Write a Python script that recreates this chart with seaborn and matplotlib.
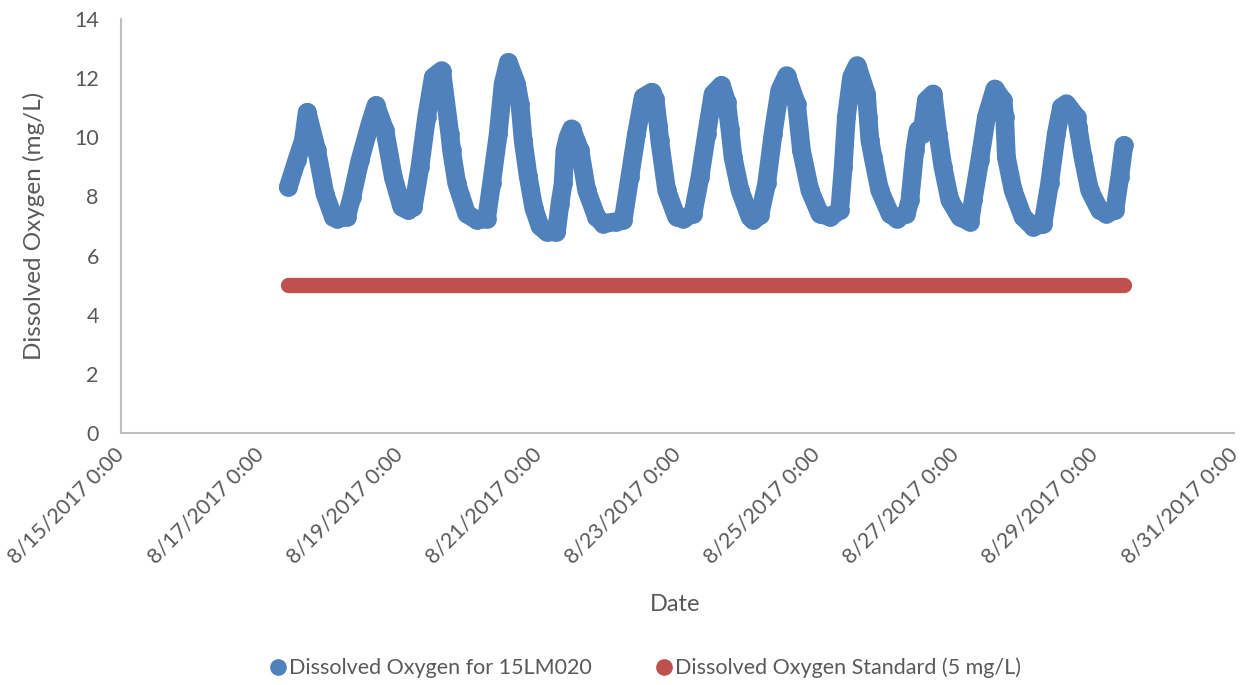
import pandas as pd
import seaborn as sns
import matplotlib.pyplot as plt
from matplotlib.lines import Line2D

# hours since 8/17/2017 0:00 and dissolved oxygen (mg/L)
do_hours = [9.7, 12.6, 14.9, 16.2, 19.5, 22.3, 25.2, 26.4, 29.8, 31.6,
            34.4, 37.9, 39.9, 43.0, 45.9, 48.8, 51.1, 52.8, 55.1, 57.4,
            59.7, 62.6, 65.4, 66.0, 67.8, 71.2, 74.7, 78.1, 79.8, 82.1,
            83.8, 85.6, 88.4, 89.6, 90.7, 92.4, 94.4, 96.5, 98.8, 102.2,
            103.4, 104.5, 105.1, 106.2, 107.4, 110.3, 112.6, 116.0, 118.3, 122.9,
            125.2, 127.5, 129.8, 132.1, 135.0, 136.2, 137.3, 137.8, 140.2, 143.6,
            145.9, 149.3, 151.7, 154.0, 156.2, 159.1, 160.9, 162.0, 163.1, 165.5,
            168.9, 170.0, 172.3, 174.7, 176.9, 179.2, 181.6, 185.0, 186.7, 189.6,
            193.0, 196.5, 199.9, 201.1, 202.2, 204.0, 205.9, 209.1, 209.7, 210.3,
            211.4, 213.7, 217.2, 219.5, 222.9, 224.1, 225.8, 226.9, 228.2, 229.8,
            232.1, 233.8, 235.5, 237.9, 241.3, 244.8, 245.9, 248.2, 250.5, 253.4,
            256.2, 256.8, 257.4, 259.7, 263.1, 266.6, 270.0, 272.3, 274.6, 276.4,
            278.1, 281.6, 282.1, 283.8, 286.1, 289.6, 291.9, 294.8, 296.5, 297.9]
do_values = [8.32, 9.22, 9.90, 10.85, 9.56, 8.10, 7.31, 7.25, 7.31, 7.98,
             9.22, 10.46, 11.08, 10.24, 8.66, 7.65, 7.53, 7.65, 9.00, 10.69,
             12.04, 12.26, 10.12, 9.56, 8.44, 7.42, 7.20, 7.25, 8.44, 10.12,
             11.81, 12.54, 11.81, 11.14, 9.90, 8.70, 7.60, 7.00, 6.80, 6.80,
             7.76, 8.44, 9.56, 10.01, 10.29, 9.56, 8.21, 7.31, 7.08, 7.15,
             7.20, 8.66, 10.12, 11.36, 11.53, 11.30, 10.40, 9.90, 8.21, 7.31,
             7.25, 7.42, 8.66, 10.12, 11.47, 11.76, 11.20, 10.30, 9.33, 8.21,
             7.31, 7.20, 7.36, 8.44, 10.12, 11.59, 12.09, 11.14, 9.56, 8.21,
             7.42, 7.31, 7.53, 9.00, 10.69, 12.04, 12.43, 11.47, 10.69, 9.90,
             9.33, 8.21, 7.42, 7.25, 7.42, 7.87, 9.56, 10.24, 10.10, 11.25,
             11.47, 10.12, 9.00, 7.87, 7.31, 7.14, 7.87, 9.22, 10.69, 11.64,
             11.25, 10.69, 9.33, 8.21, 7.31, 6.97, 7.08, 8.44, 10.12, 11.02,
             11.14, 10.69, 10.35, 9.33, 8.21, 7.53, 7.42, 7.53, 8.66, 9.73]

std_hours = [9.7, 297.9]
std_values = [5.0, 5.0]

series_names = ["Dissolved Oxygen for 15LM020", "Dissolved Oxygen Standard (5 mg/L)"]
colors = ["#4F81BD", "#C0504D"]

t0 = pd.Timestamp("2017-08-17 00:00")
do_df = pd.DataFrame({"Date": t0 + pd.to_timedelta(do_hours, unit="h"), "DO": do_values})
std_df = pd.DataFrame({"Date": t0 + pd.to_timedelta(std_hours, unit="h"), "DO": std_values})
tick_dates = pd.date_range("2017-08-15", "2017-08-31", freq="2D")

sns.set_style("white")
plt.rcParams["font.family"] = ["Lato", "DejaVu Sans"]
grey = "#595959"
axis_grey = "#BFBFBF"

fig = plt.figure(figsize=(12.48, 6.85), dpi=100)
ax = fig.add_axes([0.097, 0.368, 0.892, 0.604])

lw = 13.5
sns.lineplot(data=do_df, x="Date", y="DO", ax=ax, color=colors[0], linewidth=lw,
             marker="o", markersize=lw, markeredgewidth=0,
             solid_capstyle="round", solid_joinstyle="round", sort=False)
sns.lineplot(data=std_df, x="Date", y="DO", ax=ax, color=colors[1], linewidth=11,
             solid_capstyle="round", sort=False)

ax.set_xlim(tick_dates[0], tick_dates[-1])
ax.set_ylim(0, 14)
ax.set_yticks(range(0, 15, 2))
ax.set_xticks(tick_dates)
ax.set_xticklabels([f"{d.month}/{d.day}/{d.year} 0:00" for d in tick_dates])

for lab in ax.get_xticklabels():
    lab.set_rotation(45)
    lab.set_ha("right")
    lab.set_va("center")
    lab.set_rotation_mode("anchor")

ax.tick_params(axis="both", colors=axis_grey, labelcolor=grey, labelsize=15.5,
               length=6, width=1.2, direction="out")
ax.tick_params(axis="x", pad=7)
ax.tick_params(axis="y", pad=10)
for side in ["top", "right"]:
    ax.spines[side].set_visible(False)
for side in ["left", "bottom"]:
    ax.spines[side].set_color(axis_grey)
    ax.spines[side].set_linewidth(1.5)

ax.set_xlabel("Date", fontsize=17, color=grey)
ax.set_ylabel("Dissolved Oxygen (mg/L)", fontsize=17.5, color=grey)
ax.xaxis.set_label_coords(0.498, -0.39)
ax.yaxis.set_label_coords(-0.068, 0.5)

handles = [Line2D([], [], ls="", marker="o", markersize=11, color=c) for c in colors]
fig.legend(handles, series_names, loc="center", bbox_to_anchor=(0.517, 0.025), ncol=2,
           frameon=False, fontsize=15.5, labelcolor=grey, handletextpad=0.1,
           columnspacing=3.0, handlelength=0.8)

fig.savefig("out.png", dpi=100)
